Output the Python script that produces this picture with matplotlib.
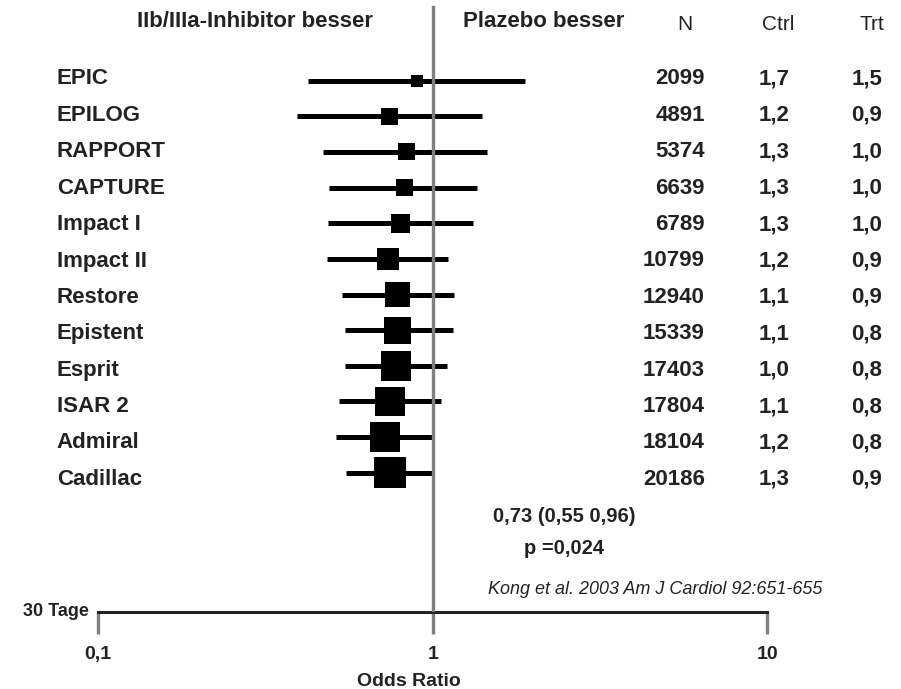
import numpy as np
import matplotlib.pyplot as plt

# ------------------------------------------
# Study data
# ------------------------------------------
studies = ["EPIC", "EPILOG", "RAPPORT", "CAPTURE", "Impact I", "Impact II",
           "Restore", "Epistent", "Esprit", "ISAR 2", "Admiral", "Cadillac"]
odds = [0.90, 0.745, 0.836, 0.821, 0.802, 0.734, 0.784, 0.784, 0.777, 0.745, 0.720, 0.745]
ci_low = [0.424, 0.392, 0.470, 0.490, 0.487, 0.482, 0.535, 0.547, 0.547, 0.525, 0.514, 0.551]
ci_high = [1.887, 1.401, 1.453, 1.356, 1.319, 1.111, 1.158, 1.148, 1.103, 1.059, 1.009, 1.002]
weight = [12, 17, 17, 17, 19, 22.5, 25.5, 27, 29.5, 29.5, 30.5, 31.5]   # box side (px)
n_patients = [2099, 4891, 5374, 6639, 6789, 10799, 12940, 15339, 17403, 17804, 18104, 20186]
ctrl = [1.7, 1.2, 1.3, 1.3, 1.3, 1.2, 1.1, 1.1, 1.0, 1.1, 1.2, 1.3]
trt = [1.5, 0.9, 1.0, 1.0, 1.0, 0.9, 0.9, 0.8, 0.8, 0.8, 0.8, 0.9]

tick_vals = [0.1, 1, 10]
tick_labels = ["0,1", "1", "10"]
summary = "0,73 (0,55 0,96)"
p_text = "p =0,024"
citation = "Kong et al. 2003 Am J Cardiol 92:651-655"


def de(v):
    return f"{v:.1f}".replace(".", ",")


plt.rcParams['font.family'] = ['Liberation Sans', 'DejaVu Sans']
TXT = "#222222"
W, H = 901, 689
DPI = 100


def fx(px):
    return px / W


def fy(py):
    return 1 - py / H


fig = plt.figure(figsize=(W / DPI, H / DPI), dpi=DPI)

# axes: full width, bottom spine is the odds ratio axis
axis_y = 611.7
ax = fig.add_axes([0, (H - axis_y) / H, 1, axis_y / H])
ax.set_xscale("log")
x0, dec = 432.7, 334.65
ax.set_xlim(10 ** ((0 - x0) / dec), 10 ** ((W - x0) / dec))
row0, row_step = 80.7, 35.64
ax.set_ylim((axis_y - row0) / row_step, -row0 / row_step)

rows = np.arange(len(studies))
ax.hlines(rows, ci_low, ci_high, color="black", lw=3.6, capstyle="butt", zorder=2)
ax.scatter(odds, rows, s=(np.array(weight) * 0.72) ** 2, marker="s",
           color="black", linewidths=0, zorder=3)
ax.axvline(1, ymin=0, ymax=(axis_y - 7) / axis_y, color="#808080", lw=2.4, zorder=5)

for s in ["top", "left", "right"]:
    ax.spines[s].set_visible(False)
ax.spines["bottom"].set_bounds(tick_vals[0], tick_vals[-1])
ax.spines["bottom"].set_color("#222222")
ax.spines["bottom"].set_linewidth(2.2)
ax.set_yticks([])
ax.set_xticks(tick_vals)
ax.set_xticklabels(tick_labels, fontsize=14, fontweight="bold", color=TXT)
ax.xaxis.set_minor_locator(plt.NullLocator())
ax.tick_params(axis="x", direction="out", length=16, width=2.4, color="#808080", pad=9)
ax.set_xlabel("Odds Ratio", fontsize=14, fontweight="bold", color=TXT, va="center")
ax.xaxis.set_label_coords(409 / W, -(682 - axis_y) / axis_y)

# headers
fig.text(fx(255), fy(21.7), "IIb/IIIa-Inhibitor besser", fontsize=16, fontweight="bold",
         color=TXT, ha="center", va="center")
fig.text(fx(544), fy(21.7), "Plazebo besser", fontsize=16, fontweight="bold",
         color=TXT, ha="center", va="center")
for x, lab in zip([685, 778, 871.7], ["N", "Ctrl", "Trt"]):
    fig.text(fx(x), fy(25), lab, fontsize=15, color=TXT, ha="center", va="center")

# study table
for i, name in enumerate(studies):
    ty = fy(79 + 36.4 * i)
    fig.text(fx(56.7), ty, name, fontsize=16, fontweight="bold", color=TXT, va="center")
    fig.text(fx(705), ty, str(n_patients[i]), fontsize=16, fontweight="bold", color=TXT,
             ha="right", va="center")
    fig.text(fx(774), ty, de(ctrl[i]), fontsize=16, fontweight="bold", color=TXT,
             ha="center", va="center")
    fig.text(fx(867), ty, de(trt[i]), fontsize=16, fontweight="bold", color=TXT,
             ha="center", va="center")

# pooled result and source
fig.text(fx(564.5), fy(516.7), summary, fontsize=14.5, fontweight="bold", color=TXT,
         ha="center", va="center")
fig.text(fx(564.5), fy(549), p_text, fontsize=14.5, fontweight="bold", color=TXT,
         ha="center", va="center")
fig.text(fx(822.7), fy(589), citation, fontsize=13, style="italic", color=TXT,
         ha="right", va="center")
fig.text(fx(89), fy(612), "30 Tage", fontsize=13, fontweight="bold", color=TXT,
         ha="right", va="center")

fig.savefig("out.png", dpi=DPI)
